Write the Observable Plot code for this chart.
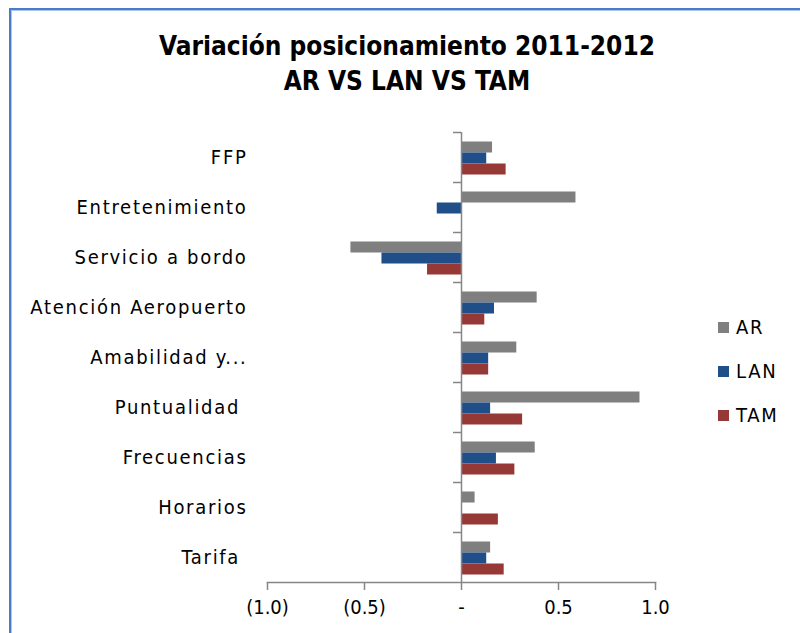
<!DOCTYPE html>
<html>
<head>
<meta charset="utf-8">
<script src="https://cdn.jsdelivr.net/npm/d3@7"></script>
<script src="https://cdn.jsdelivr.net/npm/@observablehq/plot@0.6"></script>
<style>
  html, body { margin: 0; padding: 0; background: #fff; }
  #wrap { position: relative; width: 800px; height: 633px; overflow: hidden; background: #fff; font-family: "DejaVu Sans Condensed", "DejaVu Sans", sans-serif; }
  #frame { position: absolute; left: 9px; top: 8px; width: 800px; height: 640px; border-left: 2px solid #4a7dc4; border-top: 2px solid #4a7dc4; box-shadow: inset 1px 1px 0 #a9c6ee; pointer-events: none; }
  #title { position: absolute; left: 57px; width: 700px; top: 29px; text-align: center; font-weight: bold; font-size: 26px; line-height: 35px; color: #000; }
  #legend { position: absolute; left: 718px; top: 305px; }
  .lg { display: flex; align-items: center; height: 44px; font-size: 20px; letter-spacing: 1.7px; color: #000; }
  .sw { width: 11px; height: 11px; margin-right: 7px; }
  #chart { position: absolute; left: 0; top: 0; }
  #chart svg [aria-label="y-axis tick label"] text { letter-spacing: 1.7px; }
</style>
</head>
<body>
<div id="wrap">
  <div id="chart"></div>
  <div id="frame"></div>
  <div id="title"></div>
  <div id="legend"></div>
</div>
<script>
const titleLines = ["Variación posicionamiento 2011-2012", "AR VS LAN VS TAM"];
const categories = ["FFP", "Entretenimiento", "Servicio a bordo", "Atención Aeropuerto", "Amabilidad y...", "Puntualidad\u00a0", "Frecuencias", "Horarios", "Tarifa\u00a0"];
const series = ["AR", "LAN", "TAM"];
const seriesColors = ["#7F7F7F", "#1F4E89", "#963836"];
const arValues  = [0.16, 0.59, -0.57, 0.39, 0.285, 0.92, 0.38, 0.07, 0.15];
const lanValues = [0.13, -0.125, -0.41, 0.17, 0.14, 0.15, 0.18, 0, 0.13];
const tamValues = [0.23, 0, -0.175, 0.12, 0.14, 0.315, 0.275, 0.19, 0.22];
const xTicks = [-1, -0.5, 0, 0.5, 1];
const xTickLabels = ["(1.0)", "(0.5)", "-", "0.5", "1.0"];

const valuesBySeries = [arValues, lanValues, tamValues];
const rows = [];
series.forEach((s, si) => categories.forEach((c, ci) => rows.push({series: s, category: c, value: valuesBySeries[si][ci]})));

// bar slots inside each 50px category band (Excel-style grouped bars)
const slot = {AR: [9.5, 29.5], LAN: [20.5, 18.5], TAM: [31.5, 7.5]};
const axisGray = "#868686";

const barMarks = series.map((s, i) => Plot.barX(rows.filter(d => d.series === s), {
  x: "value", y: "category", fill: seriesColors[i],
  insetTop: slot[s][0], insetBottom: slot[s][1]
}));

const chart = Plot.plot({
  width: 800,
  height: 633,
  marginLeft: 267,
  marginRight: 145,
  marginTop: 132,
  marginBottom: 51,
  style: {fontFamily: "'DejaVu Sans Condensed', 'DejaVu Sans', sans-serif", fontSize: "20px", color: "#000", background: "transparent"},
  x: {domain: [-1, 1], label: null},
  y: {domain: categories, padding: 0, label: null},
  marks: [
    ...barMarks,
    Plot.ruleX([0], {stroke: axisGray, strokeWidth: 1.5}),
    Plot.ruleY(categories, {x1: 0, x2: 0, insetLeft: -8, dy: -25, stroke: axisGray, strokeWidth: 1.5}),
    Plot.frame({anchor: "bottom", stroke: axisGray, strokeWidth: 1.5}),
    Plot.axisX({ticks: xTicks, tickFormat: d => xTickLabels[xTicks.indexOf(d)], tickSize: 8, tickPadding: 9, stroke: axisGray, strokeWidth: 1.5, fill: "#000", fontSize: 20, label: null}),
    Plot.axisY({tickSize: 0, tickPadding: 20, fontSize: 20, fill: "#000", label: null})
  ]
});
document.getElementById("chart").appendChild(chart);

document.getElementById("title").innerHTML = titleLines.map(t => `<div>${t}</div>`).join("");
document.getElementById("legend").innerHTML = series.map((s, i) =>
  `<div class="lg"><div class="sw" style="background:${seriesColors[i]}"></div><span>${s}</span></div>`).join("");
</script>
</body>
</html>
